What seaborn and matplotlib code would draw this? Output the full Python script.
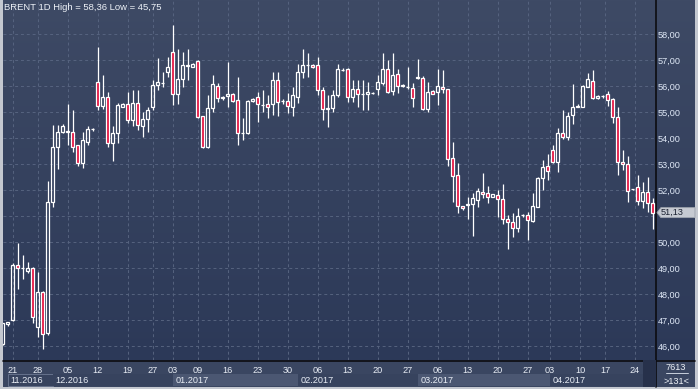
import numpy as np
import pandas as pd
import matplotlib
matplotlib.use("Agg")
import matplotlib.pyplot as plt
import matplotlib.transforms as mtransforms
from matplotlib.colors import LinearSegmentedColormap
from matplotlib.patches import Rectangle, Polygon
import seaborn as sns

# Daily BRENT bars (131 visible bars, last one is live)
opens = [46.08, 46.85, 47.00, 49.10, 49.00, 48.90, 48.99, 46.72, 48.07, 46.49,
         51.53, 53.67, 54.24, 54.25, 54.24, 53.73, 53.03, 53.86, 54.33, 56.14,
         55.24, 55.56, 53.80, 54.18, 55.20, 55.30, 54.69, 55.33, 54.48, 54.72,
         55.18, 56.04, 56.12, 56.55, 57.30, 55.68, 56.26, 56.80, 56.75, 56.96,
         54.85, 53.64, 55.14, 56.01, 55.55, 55.60, 55.68, 55.46, 54.20, 54.18,
         55.42, 55.57, 55.28, 55.30, 55.30, 56.23, 55.44, 55.42, 55.20, 55.59,
         56.53, 56.82, 56.81, 56.81, 55.85, 55.14, 55.17, 55.65, 56.63, 56.64,
         55.57, 55.87, 55.70, 55.68, 55.72, 55.88, 56.10, 56.64, 55.82, 56.46,
         56.02, 55.97, 55.91, 56.33, 56.30, 55.10, 55.80, 55.78, 55.95, 55.87,
         53.22, 52.58, 51.38, 51.43, 51.45, 51.62, 51.94, 51.87, 51.74, 51.81,
         51.64, 50.87, 50.76, 50.53, 51.02, 51.04, 50.82, 51.36, 52.45, 52.92,
         53.54, 53.09, 54.20, 54.03, 54.88, 55.20, 55.20, 55.98, 56.20, 55.53,
         55.60, 55.70, 55.49, 54.80, 53.09, 52.99, 52.02, 52.10, 51.59, 51.92,
         51.51]
highs = [46.90, 46.93, 49.20, 49.97, 49.50, 49.23, 49.02, 48.86, 48.13, 52.35,
         54.50, 54.50, 54.53, 55.30, 55.08, 53.75, 54.24, 54.46, 54.40, 57.51,
         56.42, 55.78, 54.46, 55.36, 55.36, 55.78, 55.85, 55.85, 55.00, 55.20,
         56.23, 57.07, 56.55, 57.13, 58.36, 57.41, 57.32, 57.41, 56.87, 57.00,
         54.85, 55.65, 56.42, 56.10, 55.63, 56.93, 55.72, 56.36, 54.76, 55.45,
         55.52, 55.78, 55.85, 55.65, 56.53, 56.53, 55.50, 55.72, 55.97, 56.85,
         57.42, 57.26, 56.83, 57.13, 55.97, 55.65, 55.85, 56.83, 56.68, 56.68,
         56.23, 56.23, 56.23, 56.16, 55.76, 56.42, 57.26, 57.00, 57.26, 56.64,
         56.06, 56.72, 56.13, 57.03, 56.38, 56.16, 55.83, 56.64, 56.62, 55.90,
         53.86, 53.03, 51.40, 51.72, 51.87, 52.07, 52.64, 52.17, 51.86, 52.00,
         52.23, 51.04, 51.10, 51.30, 51.08, 51.14, 51.87, 52.49, 53.15, 53.38,
         53.73, 54.37, 55.08, 55.00, 56.08, 55.32, 56.04, 56.49, 56.62, 55.65,
         55.66, 55.82, 55.55, 55.20, 53.54, 53.31, 52.05, 52.58, 52.32, 52.51,
         51.68]
lows = [46.05, 46.77, 46.98, 48.20, 48.57, 48.80, 46.87, 46.33, 45.90, 46.43,
        51.36, 52.80, 54.20, 53.73, 53.47, 52.92, 52.83, 53.73, 54.28, 55.08,
        55.12, 53.67, 53.12, 53.80, 55.18, 54.57, 54.45, 54.30, 54.05, 54.24,
        55.08, 55.85, 55.97, 56.36, 55.27, 55.31, 55.97, 56.23, 56.74, 54.76,
        53.60, 53.60, 55.00, 55.40, 55.48, 55.18, 55.40, 53.73, 53.92, 54.15,
        55.38, 54.63, 55.00, 54.76, 54.88, 54.85, 55.30, 54.95, 54.85, 55.33,
        56.32, 56.36, 56.70, 55.65, 54.69, 54.43, 55.00, 55.57, 56.57, 55.40,
        55.40, 55.20, 55.08, 55.08, 55.70, 55.65, 56.04, 55.72, 55.65, 55.74,
        55.95, 55.87, 55.20, 56.26, 55.08, 55.00, 55.68, 55.27, 55.72, 52.92,
        51.55, 51.10, 51.23, 50.87, 50.24, 51.36, 51.68, 51.51, 51.72, 50.97,
        50.69, 49.72, 50.18, 50.40, 50.96, 50.08, 50.78, 51.33, 52.00, 52.38,
        53.03, 52.70, 53.95, 53.92, 54.54, 55.18, 55.18, 55.95, 55.49, 55.49,
        55.55, 55.23, 54.57, 52.58, 52.77, 51.55, 52.00, 51.42, 51.30, 51.17,
        50.49]
closes = [46.88, 46.92, 49.12, 49.00, 48.99, 48.99, 47.13, 48.07, 46.46, 51.53,
          53.64, 54.24, 54.46, 54.22, 53.67, 53.03, 53.92, 54.33, 54.35, 55.24,
          55.57, 53.80, 54.18, 55.27, 55.30, 54.69, 55.33, 54.50, 54.72, 55.08,
          56.04, 56.14, 56.13, 56.72, 55.68, 56.26, 56.81, 56.77, 56.85, 54.82,
          53.64, 55.14, 56.07, 55.53, 55.57, 55.68, 55.42, 54.18, 54.18, 55.42,
          55.49, 55.30, 55.27, 55.18, 56.23, 55.40, 55.43, 55.24, 55.65, 56.53,
          56.81, 56.80, 56.72, 55.85, 55.12, 55.12, 55.65, 56.64, 56.62, 55.57,
          55.87, 55.68, 55.69, 55.78, 55.73, 56.14, 56.64, 55.78, 56.42, 56.01,
          56.00, 55.95, 55.53, 56.31, 55.10, 55.78, 55.70, 56.00, 55.87, 53.18,
          52.55, 51.40, 51.30, 51.45, 51.68, 51.96, 51.85, 51.74, 51.83, 51.64,
          50.87, 50.76, 50.53, 51.00, 51.03, 50.85, 51.38, 52.45, 52.90, 52.74,
          53.09, 54.20, 54.03, 54.85, 55.18, 55.24, 56.00, 56.26, 55.53, 55.61,
          55.61, 55.46, 54.80, 53.09, 52.99, 51.96, 52.03, 51.59, 51.92, 51.49,
          51.13]

# date axis (positions in bar numbers)
tick_pos = [2, 7, 13, 19, 25, 30, 34, 39, 45, 51, 57, 63, 69, 75, 81, 87,
            93, 99, 105, 109.5, 115.5, 120.5, 126.5]
tick_labels = ["21", "28", "05", "12", "19", "27", "03", "09", "16", "23", "30",
               "06", "13", "20", "27", "06", "13", "20", "27", "03", "10", "17", "24"]
month_edges = [1, 10, 34, 59, 83, 109.5, 128]
month_labels = ["11.2016", "12.2016", "01.2017", "02.2017", "03.2017", "04.2017"]
price_ticks = [46, 47, 48, 49, 50, 51, 52, 53, 54, 55, 56, 57, 58]

title = "BRENT 1D High = 58,36 Low = 45,75"

sns.set_theme(style="dark", rc={"axes.facecolor": "none",
                                "figure.facecolor": "#c4c8d0"})
plt.rcParams["font.family"] = ["Liberation Sans", "DejaVu Sans"]

W, H = 698, 389
fig = plt.figure(figsize=(W / 100, H / 100), dpi=100)

# background layer in pixel coordinates
bg = fig.add_axes([0, 0, 1, 1], zorder=-10)
bg.set_xlim(0, W)
bg.set_ylim(H, 0)
bg.axis("off")
cmap = LinearSegmentedColormap.from_list("bgr", ["#3e4a65", "#2c3958"])
bg.imshow(np.linspace(0, 1, 256).reshape(-1, 1), cmap=cmap, aspect="auto",
          extent=(3, 695, 360, 0))
bg.add_patch(Rectangle((3, 360), 653, 27, fc="#3a4661", ec="none"))
bg.add_patch(Rectangle((656, 360), 39, 27, fc="#3a4661", ec="none"))
bg.plot([656, 656], [0, 387], color="#0c0c10", lw=1.2)
bg.plot([3, 695], [360.5, 360.5], color="#0c0c10", lw=1.2)
bg.plot([666, 688], [373, 373], color="#c8d0dc", lw=0.7)
bg.text(676, 367, "7613", color="#eef2f8", fontsize=6.6, ha="center", va="center")
bg.text(676, 381, ">131<", color="#eef2f8", fontsize=6.6, ha="center", va="center")

# main chart
ax = fig.add_axes([3 / W, (H - 360) / H, 653 / W, 360 / H])
ax.set_xlim(0.1, 130.7)
ax.set_ylim(58 - (360 - 34) / 26, 58 + 34 / 26)

df = pd.DataFrame({"o": opens, "h": highs, "l": lows, "c": closes})
df["x"] = np.arange(len(df))
df["top"] = df[["o", "c"]].max(axis=1)
df["bot"] = df[["o", "c"]].min(axis=1)
df["up"] = df["c"] >= df["o"]

ax.vlines(df["x"], df["top"], df["h"], color="white", lw=0.9, zorder=3)
ax.vlines(df["x"], df["l"], df["bot"], color="white", lw=0.9, zorder=3)
up = df[df["up"]]
dn = df[~df["up"]]
ax.bar(up["x"], up["top"] - up["bot"], bottom=up["bot"], width=0.5,
       facecolor="none", edgecolor="white", lw=0.9, zorder=4)
ax.bar(dn["x"], dn["top"] - dn["bot"], bottom=dn["bot"], width=0.5,
       facecolor="#e4123f", edgecolor="white", lw=0.9, zorder=4)

last = closes[-1]
ax.set_yticks(price_ticks)
# the live price box hides the nearest axis label
ax.set_yticklabels(["" if abs(p - last) < 0.4 else f"{p:.2f}".replace(".", ",")
                    for p in price_ticks])
ax.yaxis.tick_right()
ax.set_xticks(tick_pos)
ax.set_xticklabels(tick_labels)
ax.tick_params(axis="y", length=0, pad=1.5, labelsize=6.6, labelcolor="#dfe8f6")
ax.tick_params(axis="x", length=0, pad=4, labelsize=6.6, labelcolor="#e8edf5")
ax.grid(True, color="#56637f", linestyle=(0, (3, 3)), lw=0.7)
ax.set_axisbelow(True)
for s in ax.spines.values():
    s.set_visible(False)

# month boxes under the day labels
xt = ax.get_xaxis_transform()
for i, lab in enumerate(month_labels):
    x0, x1 = month_edges[i], month_edges[i + 1]
    fc = "#4b5772" if i in (2, 4) else "#37435e"
    ec = "#66728c" if i == 0 else "none"
    ax.add_patch(Rectangle((x0, -0.0389), x1 - x0, -0.0333, transform=xt,
                           clip_on=False, fc=fc, ec=ec, lw=0.7))
    ax.text(x0 + 0.6, -0.0556, lab, transform=xt, color="#e8edf5",
            fontsize=6.6, ha="left", va="center", clip_on=False)
ax.add_patch(Rectangle((month_edges[-1], 0), 130.7 - month_edges[-1], -0.075,
                       transform=xt, clip_on=False, fc="#27314b", ec="none"))

# live price marker on the right axis
yt = mtransforms.blended_transform_factory(ax.transAxes, ax.transData)
hh = 5 / 26
ax.add_patch(Polygon([(1.0015, last), (1.0075, last + hh), (1.0597, last + hh),
                      (1.0597, last - hh), (1.0075, last - hh)],
                     closed=True, transform=yt, clip_on=False,
                     fc="#c6cad2", ec="#9ea4ae", lw=0.6))
ax.text(1.0075, last, f"{last:.2f}".replace(".", ","), transform=yt,
        fontsize=6.6, color="#1c2232", va="center", ha="left", clip_on=False)

ax.text(0.002, 1 - 7.5 / 360, title, transform=ax.transAxes, fontsize=6.8,
        color="#eef2f8", ha="left", va="center")

fig.savefig("out.png", dpi=100)
